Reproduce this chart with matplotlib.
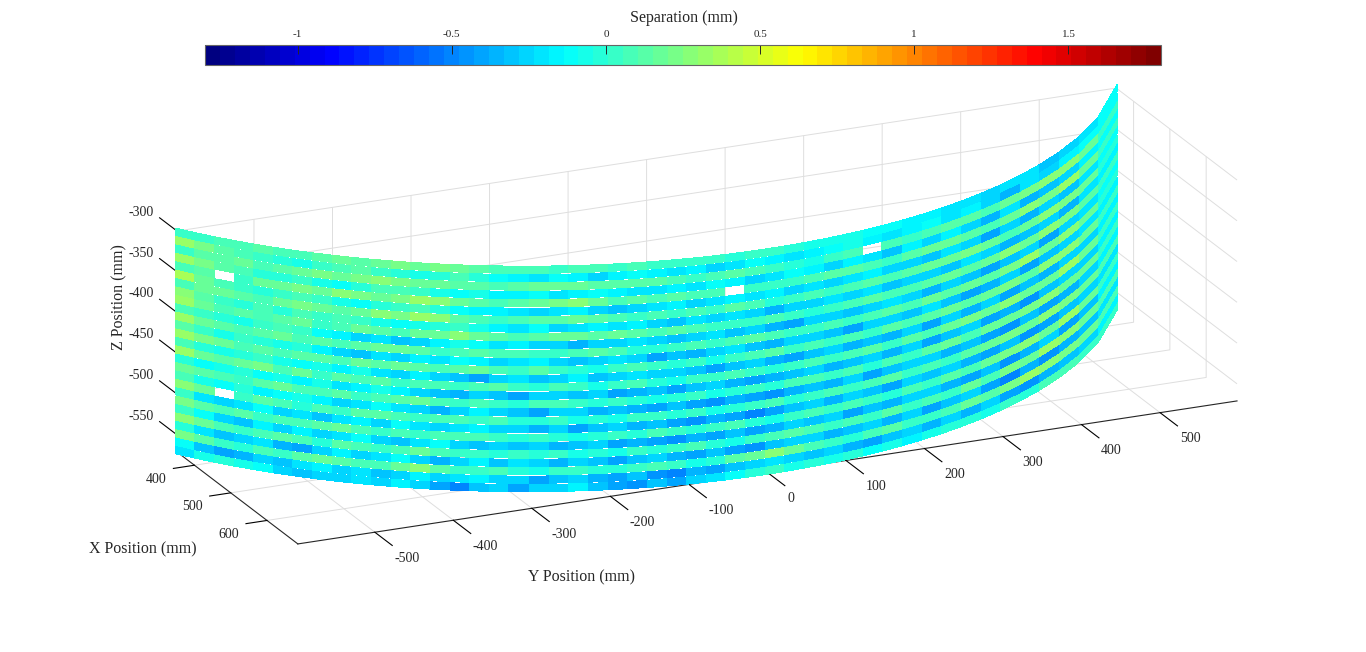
import numpy as np
import matplotlib
matplotlib.use("Agg")
import matplotlib.pyplot as plt
from matplotlib.cm import ScalarMappable
from matplotlib.colors import LinearSegmentedColormap, Normalize
from mpl_toolkits.mplot3d import proj3d

plt.rcParams["font.family"] = ["Liberation Serif", "DejaVu Serif"]
plt.rcParams["axes.unicode_minus"] = False

# position of the cell edges along the curved wall (mm), left to right on screen
y_edges = [-599.8, -585.3, -570.2, -554.6, -538.6, -522.4, -505.6, -488.4, -470.9, -453.0, -434.9, -416.4,
           -397.5, -378.4, -358.8, -339.1, -319.0, -298.5, -277.8, -256.8, -235.5, -213.8, -191.8, -169.6,
           -146.9, -124.0, -100.8, -77.1, -53.2, -28.9, -4.1, 21.0, 46.6, 72.6, 99.1, 126.2,
           153.7, 181.9, 210.7, 240.3, 270.8, 302.3, 334.9, 369.0, 404.8, 443.2, 485.0, 533.4, 599.8]
x_edges = [350.5, 373.0, 394.6, 415.3, 434.8, 453.5, 471.4, 488.5, 504.7, 520.2, 534.8, 548.9,
           562.3, 574.9, 586.8, 598.1, 608.7, 618.7, 628.0, 636.6, 644.5, 651.8, 658.4, 664.3,
           669.5, 674.0, 677.7, 680.8, 683.0, 684.4, 685.0, 684.7, 683.4, 681.3, 678.0, 673.6,
           668.1, 661.1, 652.8, 642.8, 630.9, 616.9, 600.4, 580.7, 557.2, 528.3, 491.7, 441.0, 350.5]
z_rows = [-301.0, -311.3, -321.6, -331.9, -342.2, -352.5, -362.8, -373.1, -383.4, -393.7, -404.0, -414.3, -424.6,
          -434.9, -445.2, -455.5, -465.8, -476.1, -486.4, -496.7, -507.0, -517.3, -527.6, -537.9, -548.2,
          -558.5, -568.8]
row_half = 4.4

nan = float("nan")
# separation (mm), one list per row, top row first
row_01 = [.02,.05,.08,.10,.12,.06,.10,.14, .16,.12,.20,.22,.18,.22,.20,.14, .10,.08,.06,.04,.10,.06,.05,.08, .02,.04,.05,.03,.00,.05,.02,-.02, -.05,-.08,-.05,-.10,-.12,-.15,-.18,-.20, -.22,-.25,-.20,-.22,-.30,-.28,-.20,-.10]
row_02 = [.32,.22,.14,.10,.05,-.02,-.08,.02, .10,.14,.05,-.02,-.06,.00,.06,-.02, -.10,-.14,-.20,-.12,-.15,-.25,-.18,-.10, -.15,-.20,-.18,-.25,-.20,-.10,-.15,-.22, -.18,-.12,-.08,-.15,-.20,-.18,-.12,-.22, -.15,-.25,-.35,-.20,-.28,-.15,-.10,-.12]
row_03 = [.05,.12,.15,.18,.10,.14,.20,.22, .18,.24,.26,.22,.18,.20,.12,.15, .10,.14,.18,.16,.20,.15,.12,.14, .12,.10,.05,.10,.15,.10,.02,-.02, -.05,.02,.08,nan,.10,.05,.08,.12, .14,.10,.18,.22,.25,.28,.20,.05]
row_04 = [.34,.22,.12,.06,.00,-.04,.02,-.06, -.10,-.02,.08,.10,.02,-.05,-.12,-.08, -.15,-.18,-.12,-.20,-.15,-.10,-.18,-.22, -.20,-.14,-.22,-.12,-.18,-.25,-.20,-.12, -.18,-.25,-.15,-.22,-.30,-.18,-.25,-.15, -.28,-.35,-.22,-.36,-.30,-.25,-.18,-.10]
row_05 = [.08,.15,nan,.05,.16,.20,.22,.16, .26,.22,.18,.24,.30,.26,.20,.15, .10,.12,.18,.22,.26,.16,.10,.14, .08,.12,.10,.06,nan,.04,.02,.05, .08,.12,.15,.10,.05,.12,.18,.20, .15,.10,.20,.26,.22,.30,.20,.02]
row_06 = [.36,.20,.10,.02,-.04,.05,.10,.02, -.05,-.12,-.02,.05,.08,.00,-.10,-.18, -.15,-.22,-.26,-.20,-.18,-.28,-.32,-.26, -.22,-.18,-.25,-.20,-.15,-.22,-.18,-.25, -.20,-.26,-.22,-.15,-.28,-.25,-.32,-.22, -.28,-.38,-.25,-.36,-.28,-.32,-.20,-.12]
row_07 = [.10,.16,.20,.15,.10,.16,.22,.18, .14,.20,.26,.22,.30,.25,.15,.10, .05,.08,.14,.12,.16,.12,.08,.04, .06,.02,.08,.05,.12,.06,.00,.05, .08,.04,.10,.14,.08,.15,.20,.18, .22,.16,.10,.20,.28,.24,.18,.00]
row_08 = [.26,.14,.05,.00,.06,-.02,.08,.02, .10,.05,-.05,-.12,-.08,.00,.05,-.06, -.15,-.20,-.12,-.24,-.20,-.15,-.22,-.18, -.24,-.30,-.20,-.26,-.22,-.28,-.34,-.25, -.28,-.22,-.26,-.20,-.30,-.25,-.28,-.32, -.22,-.28,-.36,-.30,-.25,-.34,-.22,-.14]
row_09 = [.30,.18,.10,.14,.08,.12,.16,.05, .10,.18,.14,.08,.16,.20,.25,.18, .14,.08,.12,.16,.20,.14,.16,.12, .08,.14,.10,.05,.02,.05,.10,.04, -.02,.05,.10,.14,.10,.06,.14,.16, .12,.20,.26,.18,.28,.22,.15,.02]
row_10 = [.10,.05,.00,-.05,.04,.10,.02,-.10, -.18,-.26,-.20,-.30,-.24,-.15,-.08,-.12, -.20,-.15,-.26,-.24,-.34,-.28,-.24,-.20, -.26,-.32,-.28,-.22,-.30,-.24,-.34,-.38, -.28,-.24,-.32,-.26,-.22,-.28,-.34,-.24, -.30,-.40,-.32,-.26,-.38,-.28,-.22,-.12]
row_11 = [.32,.20,.12,.08,.14,.18,.10,.14, .08,.14,.20,.16,.12,.05,.10,.14, .06,.10,.04,.02,.08,.14,.06,.00, -.04,.02,.08,.04,.10,.12,.06,.02, .05,.10,.02,.08,.14,.10,.16,.12, .20,.15,.24,.30,.20,.26,.16,.00]
row_12 = [.12,.02,-.05,.04,.00,-.08,-.02,-.15, -.24,-.32,-.20,-.26,-.15,-.22,-.10,-.18, -.28,-.22,-.15,-.24,-.32,-.26,-.22,-.28, -.38,-.32,-.34,-.26,-.22,-.30,-.34,-.28, -.24,-.32,-.38,-.28,-.24,-.30,-.22,-.32, -.40,-.34,-.26,-.42,-.32,-.28,-.22,-.14]
row_13 = [.32,.22,.16,.10,.14,.06,.12,.14, .10,.16,.12,.20,.14,.08,.12,.16, .10,.05,.12,.02,.00,-.05,.04,.10, .05,-.02,.04,-.05,.02,.06,.12,.04, .08,.02,.10,.05,.12,.08,.14,.20, .12,.16,.24,.15,.26,.28,.18,.02]
row_14 = [.08,.00,-.08,-.04,.02,-.06,-.12,-.05, -.15,-.08,-.22,-.28,-.18,-.24,-.32,-.38, -.26,-.20,-.30,-.24,-.18,-.32,-.26,-.22, -.28,-.24,-.32,-.38,-.30,-.26,-.34,-.40, -.32,-.26,-.36,-.30,-.34,-.24,-.38,-.28, -.34,-.26,-.42,-.30,-.36,-.26,-.24,-.16]
row_15 = [.30,.20,.12,.16,.22,.10,.16,.05, .12,.08,.14,.04,.10,.06,.02,.08, .12,.05,.00,.06,.02,-.05,.02,.06, .00,-.06,.02,.05,.08,.02,-.04,.05, .10,.04,.08,.12,.05,.14,.10,.16, .22,.16,.28,.20,.18,.30,.20,.04]
row_16 = [.00,-.12,-.06,-.02,-.10,-.05,-.15,-.08, -.22,-.15,-.08,-.14,-.24,-.30,-.34,-.26, -.32,-.38,-.26,-.24,-.32,-.28,-.40,-.34, -.30,-.38,-.32,-.26,-.36,-.42,-.34,-.30, -.26,-.36,-.32,-.24,-.34,-.28,-.38,-.32, -.26,-.40,-.34,-.44,-.32,-.28,-.26,-.18]
row_17 = [.20,.14,.08,.04,.12,.18,.10,.06, .12,.04,.08,.14,.20,.10,.05,.10, .04,.00,.06,.10,.03,-.04,.02,-.02, -.08,.00,.04,-.05,-.02,.05,.00,.06, .10,.02,.06,.00,.10,.05,.12,.16, .10,.20,.16,.24,.28,.20,.16,.05]
row_18 = [.10,-.05,-.12,-.04,-.18,-.10,-.05,-.18, -.24,-.20,-.12,-.20,-.28,-.34,-.24,-.18, -.26,-.32,-.38,-.28,-.24,-.34,-.30,-.36, -.42,-.32,-.38,-.44,-.34,-.40,-.46,-.36, -.30,-.34,-.26,-.38,-.32,-.28,-.24,-.34, -.30,-.38,-.44,-.32,-.40,-.34,-.28,-.18]
row_19 = [.26,.16,nan,.05,.12,.08,.00,.10, .04,.12,.14,.08,.02,.06,.10,.02, .06,.00,-.02,.04,-.06,.00,-.08,.02, .05,-.04,.02,-.08,.00,.04,.06,.00, .04,.10,.02,.06,.12,.05,.10,.02, .14,.18,.22,.16,.28,.24,.18,.06]
row_20 = [.05,-.20,-.28,-.22,-.12,-.26,-.20,-.30, -.22,-.15,-.24,-.12,-.22,-.28,-.20,-.15, -.28,-.24,-.34,-.28,-.38,-.32,-.26,-.34, -.32,-.38,-.44,-.36,-.40,-.48,-.38,-.32, -.28,-.34,-.24,-.32,-.38,-.28,-.32,-.26, -.36,-.42,-.32,-.46,-.38,-.30,-.28,-.20]
row_21 = [.24,.14,.08,.12,.04,.10,.06,.14, .16,.10,.05,.10,.02,.06,.10,.06, .02,-.02,.04,.00,-.06,-.02,.05,.00, .08,.04,-.02,.02,.06,.00,-.05,.05, .10,.04,.08,.02,.00,.10,.05,.12, .06,.16,.22,.28,.20,.30,.18,.04]
row_22 = [.02,-.12,-.24,-.30,-.18,-.26,-.15,-.28, -.22,-.12,-.24,-.30,-.20,-.12,-.24,-.30, -.24,-.32,-.26,-.36,-.32,-.28,-.38,-.34, -.40,-.46,-.34,-.38,-.32,-.42,-.36,-.28, -.32,-.24,-.38,-.30,-.34,-.28,-.24,-.36, -.42,-.32,-.44,-.34,-.26,-.38,-.30,-.18]
row_23 = [.28,.18,.06,.02,.08,.12,.06,.00, .14,.08,.02,.10,.16,.06,.02,.04, .00,.05,-.04,.02,-.08,.00,-.05,.03, -.04,.02,.06,.00,-.05,.05,.10,.14, .06,.02,.08,.04,.12,.02,.10,.05, .16,.10,.24,.20,.32,.26,.20,.08]
row_24 = [-.02,-.20,-.32,-.26,-.20,-.34,-.38,-.24, -.18,-.28,-.22,-.12,-.24,-.34,-.24,-.15, -.30,-.22,-.28,-.34,-.26,-.30,-.38,-.32, -.28,-.36,-.42,-.32,-.38,-.44,-.32,-.28, -.26,-.34,-.30,-.24,-.36,-.28,-.40,-.32, -.28,-.42,-.48,-.36,-.46,-.34,-.30,-.20]
row_25 = [.24,.12,.04,.00,.10,.05,.14,.18, .12,.06,.10,.20,.26,.15,.05,.02, .08,.00,-.06,.02,.05,-.04,.00,.05, .10,.02,-.05,.00,.12,.20,.28,.18, .10,.04,.00,.08,.12,.05,.02,.10, .16,.12,.24,.32,.26,.22,.20,.10]
row_26 = [-.10,-.32,-.42,-.34,-.24,-.32,-.22,-.18, -.26,-.20,-.30,-.24,-.18,-.28,-.22,-.18, -.24,-.28,-.38,-.32,-.26,-.34,-.40,-.30, -.44,-.48,-.36,-.42,-.32,-.26,-.22,-.28, -.32,-.24,-.34,-.40,-.30,-.26,-.36,-.28, -.34,-.28,-.38,-.44,-.36,-.30,-.24,-.14]
row_27 = [-.20,-.08,.00,-.05,-.12,-.26,-.32,-.24, -.28,-.22,-.28,-.18,-.24,-.38,-.48,-.32, -.28,-.38,-.28,-.24,-.18,-.32,-.38,-.44, -.32,-.38,-.28,-.22,-.12,-.04,.02,-.06, .00,-.08,-.02,-.10,-.06,-.14,-.08,-.04, .00,-.06,.04,.00,.06,.10,.04,.02]
separation_rows = [row_01, row_02, row_03, row_04, row_05, row_06, row_07, row_08, row_09,
                   row_10, row_11, row_12, row_13, row_14, row_15, row_16, row_17, row_18,
                   row_19, row_20, row_21, row_22, row_23, row_24, row_25, row_26, row_27]

cbar_ticks = [-1, -0.5, 0, 0.5, 1, 1.5]
cbar_labels = ["-1", "-0.5", "0", "0.5", "1", "1.5"]
x_ticks = [400, 500, 600]
y_ticks = [-500, -400, -300, -200, -100, 0, 100, 200, 300, 400, 500]
z_ticks = [-550, -500, -450, -400, -350, -300]

W, H = 1366, 652
dark = (0.15, 0.15, 0.15)

# same jet as the original tool: 64 steps, pure colours at 1/8, 3/8, 5/8, 7/8
jet = LinearSegmentedColormap.from_list(
    "jet64",
    [(0, (0, 0, 0.5)), (0.125, (0, 0, 1)), (0.375, (0, 1, 1)),
     (0.625, (1, 1, 0)), (0.875, (1, 0, 0)), (1, (0.5, 0, 0))], N=64)
norm = Normalize(-1.3, 1.8)

fig = plt.figure(figsize=(W / 100, H / 100), dpi=100)

L = 1064  # side of the square 3d axes in pixels
ax = fig.add_axes([(707 - 0.5135 * L) / W, (336 - 0.5135 * L) / H, L / W, L / H],
                  projection="3d", proj_type="ortho")
ax.patch.set_alpha(0)
ax.view_init(elev=19.9, azim=-24.1)

for z, vals in zip(z_rows, separation_rows):
    X = np.array([x_edges, x_edges])
    Y = np.array([y_edges, y_edges])
    Z = np.array([[z + row_half] * len(x_edges), [z - row_half] * len(x_edges)])
    colors = jet(norm(np.array([vals])))
    colors[np.isnan(np.array([vals]))] = (1, 1, 1, 0)
    ax.plot_surface(X, Y, Z, facecolors=colors, rstride=1, cstride=1,
                    shade=False, linewidth=0, antialiased=False)

ax.set_xlim(352, 685, view_margin=0)
ax.set_ylim(-598, 598, view_margin=0)
ax.set_zlim(-571, -300, view_margin=0)
ax.set_box_aspect((296, 1029, 235))

ax.set_xticks(x_ticks)
ax.set_yticks(y_ticks)
ax.set_zticks(z_ticks)
ax.zaxis.set_ticks_position("lower")
ax.zaxis._get_tickdir = lambda position: 0  # z ticks run along x as in the original

out = {"x": -0.28, "y": -1.8, "z": 1.8}
for name, axis in zip("xyz", (ax.xaxis, ax.yaxis, ax.zaxis)):
    axis.set_pane_color((1, 1, 1, 0))
    axis.pane.set_edgecolor((1, 1, 1, 0))
    axis.line.set_color(dark)
    axis.line.set_linewidth(0.8)
    axis._axinfo["grid"].update(color=(0.87, 0.87, 0.87, 1), linewidth=0.7)
    axis._axinfo["tick"].update(inward_factor=0, outward_factor=out[name], linewidth={True: 0.8, False: 0.5})
    axis.set_tick_params(label1On=False, label2On=False)
    for tick in axis.get_major_ticks():
        tick.label1.set_visible(False)
        tick.label2.set_visible(False)

# tick labels sit away from the axis lines: project the spot, then plain 2d text
proj = ax.get_proj()


def tick_label(x, y, z, text, ha):
    px, py, _ = proj3d.proj_transform(x, y, z, proj)
    ax.text2D(px, py, text, transform=ax.transData, ha=ha, va="center", fontsize=10, color=dark)


for v in x_ticks:
    tick_label(v, -647, -581, str(v), "center")
for v in y_ticks:
    tick_label(739, v, -585, str(v), "left")
for v in z_ticks:
    tick_label(279, -610, v, str(v), "center")

fig.text(143 / W, 1 - 549 / H, "X Position (mm)", ha="center", va="center", fontsize=11.5, color=dark)
fig.text(581 / W, 1 - 577 / H, "Y Position (mm)", ha="center", va="center", fontsize=11.5, color=dark)
fig.text(119 / W, 1 - 297 / H, "Z Position (mm)", ha="center", va="center", fontsize=11.5, color=dark, rotation=90)

cax = fig.add_axes([205 / W, 1 - 65 / H, 956 / W, 20 / H])
cb = fig.colorbar(ScalarMappable(norm=norm, cmap=jet), cax=cax, orientation="horizontal", ticklocation="top")
cb.set_ticks(cbar_ticks)
cb.set_ticklabels(cbar_labels)
cb.ax.tick_params(direction="in", length=6.5, width=0.7, color=dark, labelsize=8, labelcolor=dark, pad=4)
cb.outline.set_edgecolor((0.4, 0.4, 0.4))
cb.outline.set_linewidth(0.8)
fig.text(683.5 / W, 1 - 18 / H, "Separation (mm)", ha="center", va="center", fontsize=11.5, color=dark)

fig.savefig("out.png", dpi=100, facecolor="white")
